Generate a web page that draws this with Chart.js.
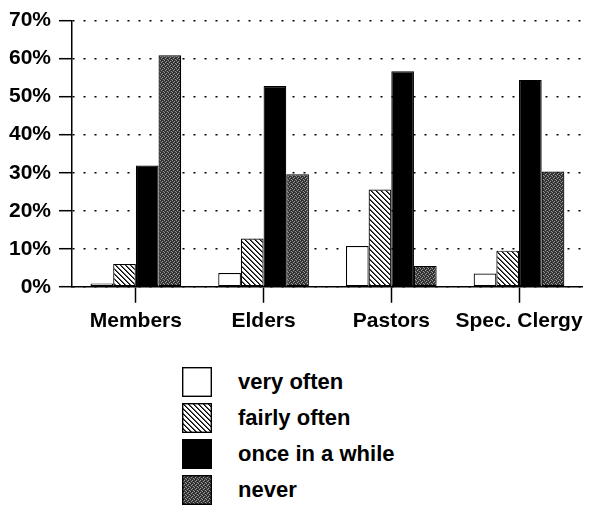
<!DOCTYPE html>
<html>
<head>
<meta charset="utf-8">
<script src="https://cdn.jsdelivr.net/npm/chart.js@4"></script>
<style>
  html, body { margin: 0; padding: 0; background: #fff; }
  #wrap { position: relative; width: 589px; height: 507px; overflow: hidden; }
  #c { position: absolute; left: 0; top: 0; }
  #legend { position: absolute; left: 182px; top: 367px; font-family: "Liberation Sans", Arial, sans-serif; font-weight: bold; font-size: 22px; color: #000; }
  .item { position: relative; height: 36px; }
  .item canvas { position: absolute; left: 0; top: 0; }
  .item span { position: absolute; left: 56px; top: 0; line-height: 30px; white-space: nowrap; }
</style>
</head>
<body>
<div id="wrap">
  <canvas id="c" width="589" height="345"></canvas>
  <div id="legend"></div>
</div>
<script>
const categories = ['Members', 'Elders', 'Pastors', 'Spec. Clergy'];
const seriesLabels = ['very often', 'fairly often', 'once in a while', 'never'];
const veryOften = [0.9, 3.6, 10.7, 3.5];
const fairlyOften = [6.0, 12.7, 25.6, 9.5];
const onceInAWhile = [31.9, 52.8, 56.7, 54.4];
const never = [60.9, 29.6, 5.5, 30.3];
const yTickValues = [0, 10, 20, 30, 40, 50, 60, 70];

function hatchPattern() {
  const s = 5;
  const c = document.createElement('canvas');
  c.width = s; c.height = s;
  const g = c.getContext('2d');
  const img = g.createImageData(s, s);
  for (let y = 0; y < s; y++) {
    for (let x = 0; x < s; x++) {
      const m = ((x - y) % s + s) % s;
      const v = (m === 0) ? 0 : (m === 1 ? 90 : 255);
      const i = (y * s + x) * 4;
      img.data[i] = v; img.data[i + 1] = v; img.data[i + 2] = v; img.data[i + 3] = 255;
    }
  }
  g.putImageData(img, 0, 0);
  return g.createPattern(c, 'repeat');
}
function stipplePattern() {
  const c = document.createElement('canvas');
  c.width = 4; c.height = 4;
  const g = c.getContext('2d');
  g.fillStyle = '#3a3a3a'; g.fillRect(0, 0, 4, 4);
  g.fillStyle = '#9a9a9a';
  [[0,0],[2,1],[1,2],[3,3]].forEach(p => g.fillRect(p[0], p[1], 1, 1));
  g.fillStyle = '#1e1e1e';
  [[1,0],[3,2]].forEach(p => g.fillRect(p[0], p[1], 1, 1));
  return g.createPattern(c, 'repeat');
}

const fills = ['#ffffff', hatchPattern(), '#000000', stipplePattern()];
const seriesData = [veryOften, fairlyOften, onceInAWhile, never];

const FONT = { family: '"Liberation Sans", Arial, sans-serif', weight: 'bold', size: 21 };

const chart = new Chart(document.getElementById('c'), {
  type: 'bar',
  data: {
    labels: categories,
    datasets: seriesData.map((d, i) => ({
      label: seriesLabels[i],
      data: d,
      backgroundColor: fills[i],
      borderColor: '#000',
      borderWidth: 1.2,
      borderSkipped: false,
      categoryPercentage: 0.71,
      barPercentage: 1.0
    }))
  },
  options: {
    responsive: false,
    animation: false,
    devicePixelRatio: 1,
    layout: { padding: { left: 0, right: 3, top: -3, bottom: 5 } },
    plugins: { legend: { display: false }, tooltip: { enabled: false } },
    scales: {
      x: {
        grid: { display: true, offset: false, drawOnChartArea: false, drawTicks: true, tickLength: 16, tickColor: '#000', tickWidth: 1.5 },
        border: { display: true, color: '#000', width: 1.5 },
        ticks: { color: '#000', font: FONT, padding: 6, maxRotation: 0, autoSkip: false }
      },
      y: {
        min: 0, max: 70,
        afterFit: s => { s.width = 72; },
        afterBuildTicks: s => { s.ticks = yTickValues.map(v => ({ value: v })); },
        grid: { color: '#000', lineWidth: 1.4, tickLength: 13, tickColor: '#000', tickWidth: 1.5, tickBorderDash: [] },
        border: { display: true, color: '#000', width: 1.5, dash: [2, 9] },
        ticks: { color: '#000', font: FONT, padding: 8, callback: v => v + '%' }
      }
    }
  }
});

// HTML legend built from the chart's datasets
const legend = document.getElementById('legend');
chart.data.datasets.forEach(ds => {
  const item = document.createElement('div');
  item.className = 'item';
  const sw = document.createElement('canvas');
  sw.width = 30; sw.height = 30;
  const g = sw.getContext('2d');
  g.fillStyle = ds.backgroundColor; g.fillRect(0, 0, 30, 30);
  g.strokeStyle = '#000'; g.lineWidth = 1.4; g.strokeRect(0.7, 0.7, 28.6, 28.6);
  const t = document.createElement('span');
  t.textContent = ds.label;
  item.appendChild(sw); item.appendChild(t);
  legend.appendChild(item);
});
</script>
</body>
</html>
